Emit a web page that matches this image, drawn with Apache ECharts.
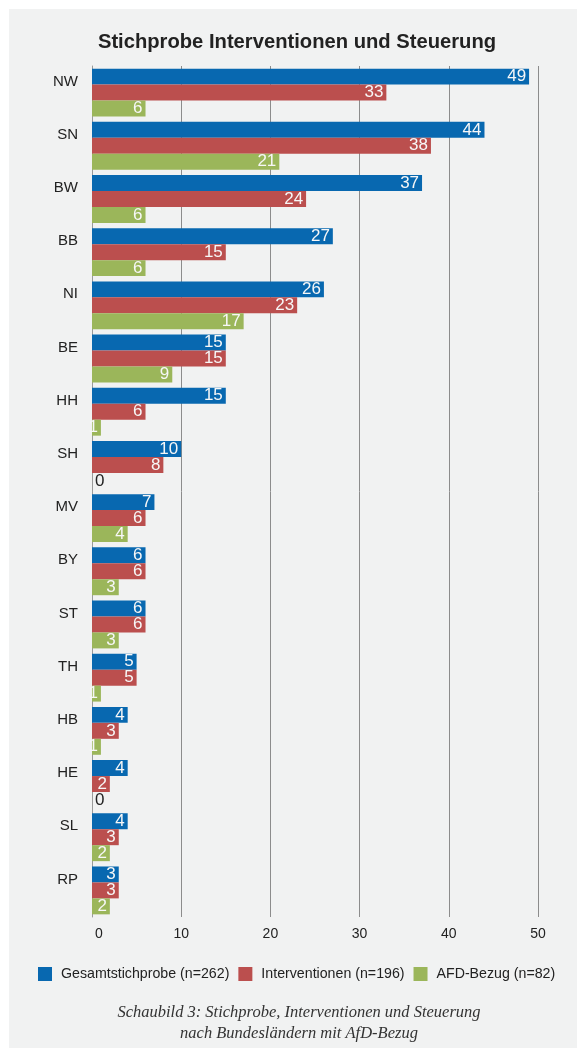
<!DOCTYPE html>
<html>
<head>
<meta charset="utf-8">
<script src="https://cdn.jsdelivr.net/npm/echarts@6/dist/echarts.min.js"></script>
<style>
html,body{margin:0;padding:0;background:#ffffff;}
#panel{position:absolute;left:9px;top:9px;width:568px;height:1039px;background:#f1f2f2;}
#chart{position:absolute;left:0;top:0;width:577px;height:1051px;}
</style>
</head>
<body>
<div id="panel"></div>
<div id="chart"></div>
<script>
const categories = ['NW','SN','BW','BB','NI','BE','HH','SH','MV','BY','ST','TH','HB','HE','SL','RP'];
const gesamt = [49,44,37,27,26,15,15,10,7,6,6,5,4,4,4,3];
const interventionen = [33,38,24,15,23,15,6,8,6,6,6,5,3,2,3,3];
const afd = [6,21,6,6,17,9,1,0,4,3,3,1,1,0,2,2];
const seriesNames = ['Gesamtstichprobe (n=262)','Interventionen (n=196)','AFD-Bezug (n=82)'];
const colors = ['#0868b0','#bb4f4e','#9bb65a'];
const xTicks = [0,10,20,30,40,50];

function toData(arr){
  return arr.map(v => v === 0
    ? {value: v, label: {position: 'right', distance: 3, color: '#222'}}
    : v);
}

const chart = echarts.init(document.getElementById('chart'));
const font = '"Liberation Sans", Arial, sans-serif';
chart.setOption({
  backgroundColor: 'transparent',
  animation: false,
  color: colors,
  title: {
    text: 'Stichprobe Interventionen und Steuerung',
    left: 292, textAlign: 'center', top: 27,
    textStyle: {fontFamily: font, fontSize: 20.2, fontWeight: 'bold', color: '#222'}
  },
  legend: {
    data: seriesNames,
    top: 962, left: 33,
    itemWidth: 14, itemHeight: 14, itemGap: 9,
    icon: 'rect',
    textStyle: {fontFamily: font, fontSize: 14.2, color: '#222', padding: [0,0,0,4]}
  },
  grid: {left: 92, right: 39, top: 66, bottom: 134},
  xAxis: {
    type: 'value', min: xTicks[0], max: xTicks[xTicks.length-1], interval: 10,
    axisLine: {show: false}, axisTick: {show: false},
    splitLine: {show: true, lineStyle: {color: '#8c8c8c', width: 1}},
    axisLabel: {
      fontFamily: font, fontSize: 14, color: '#222', margin: 10,
      formatter: v => v === 0 ? '{z|0}' : String(v),
      rich: {z: {fontFamily: font, fontSize: 14, color: '#222', padding: [0,0,0,14]}}
    }
  },
  yAxis: {
    type: 'category', data: categories, inverse: true,
    axisLine: {show: true, lineStyle: {color: '#9a9a9a', width: 1}},
    axisTick: {show: false},
    axisLabel: {
      color: '#222', margin: 14,
      formatter: v => '{a|' + v + '}\n{b|}',
      rich: {
        a: {fontFamily: font, fontSize: 15, color: '#222', lineHeight: 16, align: 'right'},
        b: {lineHeight: 22, fontSize: 1}
      }
    }
  },
  series: [gesamt, interventionen, afd].map((arr, i) => ({
    name: seriesNames[i],
    type: 'bar',
    data: toData(arr),
    barGap: '0%',
    barCategoryGap: '10%',
    label: {
      show: true, position: 'insideRight', distance: 3,
      color: '#f7f7f7', fontFamily: font, fontSize: 17
    }
  })),
  graphic: [
    {type: 'text', x: 299, y: 1002,
     style: {text: 'Schaubild 3: Stichprobe, Interventionen und Steuerung\nnach Bundesländern mit AfD-Bezug',
       font: 'italic 16.5px "Liberation Serif", "Times New Roman", serif', fill: '#333', textAlign: 'center', lineHeight: 21}}
  ]
});
</script>
</body>
</html>
